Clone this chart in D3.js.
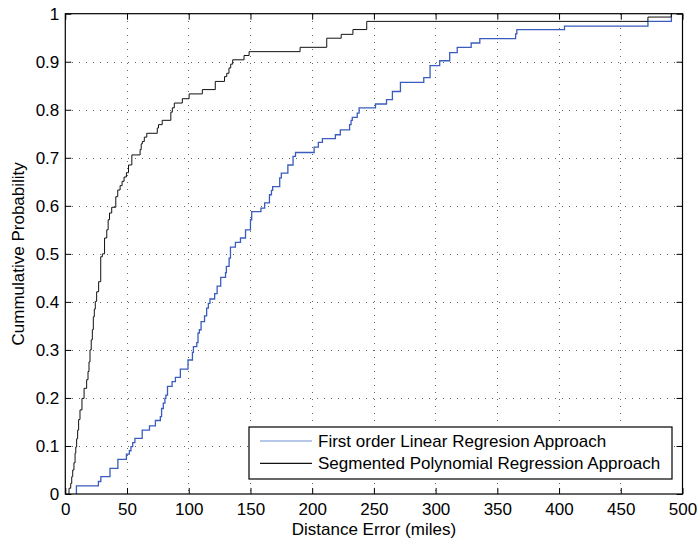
<!DOCTYPE html>
<html>
<head>
<meta charset="utf-8">
<script src="https://cdn.jsdelivr.net/npm/d3@7"></script>
<style>
  html, body { margin: 0; padding: 0; background: #fff; }
  svg { display: block; font-family: "Liberation Sans", Arial, Helvetica, sans-serif; }
</style>
</head>
<body>
<svg id="chart" width="700" height="544"></svg>
<script>
// Empirical CDFs of distance error: each pair is [error (miles), cumulative probability from that error onward]
const linearSteps = [
  [9.0,0],[9.0,0.017],[26.8,0.026],[28.8,0.036],[36.2,0.0535],[42.6,0.072],[49.5,0.083],[51.9,0.09],
  [53.2,0.0985],[54.6,0.107],[56.4,0.116],[62.3,0.133],[68.2,0.142],[73.0,0.153],[77.0,0.161],[78.0,0.178],
  [79.4,0.189],[80.7,0.199],[81.5,0.206],[82.8,0.224],[86.5,0.234],[89.2,0.243],[93.2,0.26],[99.4,0.279],
  [103.0,0.295],[103.8,0.307],[106.5,0.315],[107.5,0.335],[108.6,0.342],[110.0,0.359],[112.8,0.371],
  [114.5,0.387],[115.9,0.397],[117.2,0.406],[121.0,0.417],[123.0,0.433],[125.9,0.451],[129.8,0.461],
  [130.5,0.474],[132.7,0.491],[133.8,0.514],[137.8,0.524],[141.9,0.533],[146.0,0.55],[150.0,0.571],
  [151.0,0.588],[158.5,0.595],[161.5,0.606],[165.4,0.623],[167.0,0.632],[168.0,0.64],[173.7,0.658],
  [175.0,0.668],[180.3,0.685],[184.5,0.703],[186.5,0.711],[201.6,0.722],[205.0,0.732],[208.3,0.74],
  [218.8,0.748],[222.8,0.758],[230.3,0.769],[231.5,0.778],[232.5,0.784],[236.5,0.793],[238.0,0.804],
  [251.3,0.812],[260.2,0.821],[265.0,0.838],[271.5,0.857],[290.4,0.867],[295.5,0.892],[303.3,0.902],
  [311.4,0.919],[317.5,0.93],[328.8,0.939],[335.8,0.948],[364.8,0.958],[365.8,0.967],[404.4,0.974],
  [472.0,0.984],[491.0,1.0]
];

const segmentedSteps = [
  [3.0,0],[3.0,0.012],[4.4,0.022],[5.2,0.036],[6.0,0.05],[7.0,0.065],[7.9,0.085],[8.5,0.098],[9.2,0.115],
  [10.0,0.133],[10.8,0.155],[11.9,0.175],[13.5,0.199],[15.2,0.22],[17.3,0.238],[18.4,0.255],[19.2,0.275],
  [20.0,0.3],[21.0,0.321],[21.9,0.342],[22.7,0.369],[23.5,0.385],[24.3,0.401],[25.4,0.421],[27.0,0.442],
  [28.7,0.494],[30.0,0.5],[31.8,0.533],[33.6,0.55],[34.7,0.571],[35.8,0.585],[37.6,0.597],[40.9,0.619],
  [42.5,0.633],[44.4,0.642],[46.0,0.651],[47.6,0.66],[49.5,0.669],[51.2,0.685],[53.9,0.706],[60.6,0.717],
  [61.5,0.729],[62.4,0.734],[64.0,0.743],[66.0,0.751],[74.5,0.762],[75.5,0.769],[78.5,0.778],[85.5,0.795],
  [86.7,0.804],[88.3,0.814],[94.8,0.823],[100.3,0.833],[111.0,0.842],[121.5,0.859],[129.0,0.869],
  [130.8,0.876],[132.6,0.887],[134.0,0.895],[135.6,0.904],[144.8,0.913],[148.9,0.921],[190.2,0.93],
  [211.8,0.949],[223.5,0.957],[233.0,0.967],[244.2,0.984],[472.0,0.993],[491.0,1.0]
];

const xTicks = [0, 50, 100, 150, 200, 250, 300, 350, 400, 450, 500];
const yTicks = [0, 0.1, 0.2, 0.3, 0.4, 0.5, 0.6, 0.7, 0.8, 0.9, 1];
const seriesNames = ["First order Linear Regresion Approach", "Segmented Polynomial Regression Approach"];
const seriesColors = ["#3a5cbc", "#111111"];

const xLabel = "Distance Error (miles)";
const yLabel = "Cummulative Probability";

const margin = { left: 65.3, top: 13.7, right: 700 - 682.5, bottom: 544 - 494 };
const W = 700 - margin.left - margin.right;
const H = 544 - margin.top - margin.bottom;

const svg = d3.select("#chart");
const g = svg.append("g").attr("transform", `translate(${margin.left},${margin.top})`);

const x = d3.scaleLinear().domain([0, 500]).range([0, W]);
const y = d3.scaleLinear().domain([0, 1]).range([H, 0]);

// dotted grid
const grid = g.append("g").attr("stroke", "#666").attr("stroke-width", 1)
  .attr("stroke-dasharray", "1,6").attr("shape-rendering", "crispEdges");
grid.selectAll("line.v").data(xTicks.slice(1, -1)).join("line")
  .attr("x1", d => Math.round(x(d)) + 0.5).attr("x2", d => Math.round(x(d)) + 0.5)
  .attr("y1", 0).attr("y2", H);
grid.selectAll("line.h").data(yTicks.slice(1, -1)).join("line")
  .attr("y1", d => Math.round(y(d)) + 0.5).attr("y2", d => Math.round(y(d)) + 0.5)
  .attr("x1", 0).attr("x2", W);

// CDF step lines
const line = d3.line().x(d => x(d[0])).y(d => y(d[1])).curve(d3.curveStepAfter);
g.append("path").datum(linearSteps).attr("fill", "none")
  .attr("stroke", seriesColors[0]).attr("stroke-width", 1.3).attr("d", line);
g.append("path").datum(segmentedSteps).attr("fill", "none")
  .attr("stroke", seriesColors[1]).attr("stroke-width", 1).attr("d", line);

// axes with inward ticks on all four sides
const fontSize = 17;
function styleAxis(sel) {
  sel.select(".domain").remove();
  sel.selectAll(".tick line").attr("stroke", "#000");
  sel.selectAll("text").attr("fill", "#000").style("font-size", fontSize + "px")
    .style("font-family", '"Liberation Sans", Arial, Helvetica, sans-serif');
}
g.append("g").attr("transform", `translate(0,${H})`)
  .call(d3.axisBottom(x).tickValues(xTicks).tickFormat(d3.format("d")).tickSizeInner(-6).tickSizeOuter(0).tickPadding(9))
  .call(styleAxis);
g.append("g")
  .call(d3.axisLeft(y).tickValues(yTicks).tickFormat(d => d === 0 || d === 1 ? String(d) : d3.format(".1f")(d))
    .tickSizeInner(-6).tickSizeOuter(0).tickPadding(6))
  .call(styleAxis);
g.append("g")
  .call(d3.axisTop(x).tickValues(xTicks).tickFormat("").tickSizeInner(-6).tickSizeOuter(0))
  .call(styleAxis);
g.append("g").attr("transform", `translate(${W},0)`)
  .call(d3.axisRight(y).tickValues(yTicks).tickFormat("").tickSizeInner(-6).tickSizeOuter(0))
  .call(styleAxis);

// plot frame
g.append("rect").attr("x", 0).attr("y", 0).attr("width", W).attr("height", H)
  .attr("fill", "none").attr("stroke", "#000").attr("stroke-width", 1.2);

// axis titles
svg.append("text").attr("x", margin.left + W / 2).attr("y", 535)
  .attr("text-anchor", "middle").style("font-size", fontSize + "px").text(xLabel);
svg.append("text")
  .attr("transform", `translate(24,${margin.top + H / 2}) rotate(-90)`)
  .attr("text-anchor", "middle").style("font-size", fontSize + "px").text(yLabel);

// legend
const legend = svg.append("g").attr("transform", "translate(249,427)");
legend.append("rect").attr("width", 423).attr("height", 52)
  .attr("fill", "#fff").attr("stroke", "#000").attr("stroke-width", 1.2);
const rows = legend.selectAll("g.row").data(seriesNames).join("g")
  .attr("transform", (d, i) => `translate(0,${14 + i * 22.3})`);
rows.append("line").attr("x1", 11).attr("x2", 63).attr("y1", 0).attr("y2", 0)
  .attr("stroke", (d, i) => i === 0 ? "#6f8fd4" : "#111").attr("stroke-width", 1.2);
rows.append("text").attr("x", 69).attr("y", 6).style("font-size", fontSize + "px")
  .text(d => d);
</script>
</body>
</html>
